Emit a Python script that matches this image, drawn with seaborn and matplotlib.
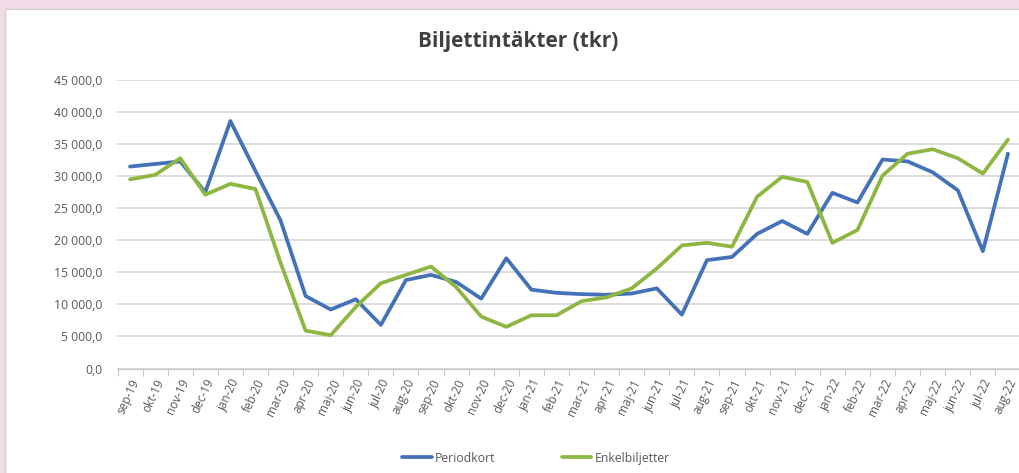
import matplotlib
matplotlib.use("Agg")
import matplotlib.pyplot as plt
import matplotlib.patches as mpatches
from matplotlib.ticker import FuncFormatter, FixedLocator
import seaborn as sns
import pandas as pd

months = ["sep-19", "okt-19", "nov-19", "dec-19", "jan-20", "feb-20", "mar-20", "apr-20",
          "maj-20", "jun-20", "jul-20", "aug-20", "sep-20", "okt-20", "nov-20", "dec-20",
          "jan-21", "feb-21", "mar-21", "apr-21", "maj-21", "jun-21", "jul-21", "aug-21",
          "sep-21", "okt-21", "nov-21", "dec-21", "jan-22", "feb-22", "mar-22", "apr-22",
          "maj-22", "jun-22", "jul-22", "aug-22"]

periodkort = [31500, 31900, 32300, 27500, 38600, 30800, 23100, 11300,
              9200, 10800, 6800, 13800, 14600, 13500, 10900, 17200,
              12300, 11800, 11600, 11500, 11700, 12500, 8400, 16900,
              17400, 21000, 23000, 21000, 27400, 25900, 32600, 32300,
              30600, 27800, 18300, 33500]

enkelbiljetter = [29500, 30200, 32800, 27100, 28800, 28000, 16500, 5900,
                  5200, 9600, 13300, 14600, 15900, 12700, 8100, 6500,
                  8300, 8300, 10500, 11100, 12500, 15600, 19200, 19600,
                  19000, 26800, 29900, 29100, 19600, 21600, 30100, 33500,
                  34200, 32800, 30400, 35700]

series_names = ["Periodkort", "Enkelbiljetter"]
colors = ["#4472b8", "#8db643"]
title = "Biljettintäkter (tkr)"

df = pd.DataFrame({
    "pos": list(range(len(months))) * 2,
    "month": months * 2,
    "value": periodkort + enkelbiljetter,
    "series": [series_names[0]] * len(months) + [series_names[1]] * len(months),
})

sns.set_theme(style="white")
plt.rcParams["font.family"] = ["Open Sans", "DejaVu Sans"]

W, H = 1020, 473
fig = plt.figure(figsize=(W / 100, H / 100), dpi=100)
fig.patch.set_facecolor("#f0dbe6")

# white chart area
fig.add_artist(mpatches.Rectangle((5 / W, -0.01), 1.0, 1 - 9 / H + 0.01, transform=fig.transFigure,
                                  facecolor="white", edgecolor="#d0d0d0", linewidth=1.0, zorder=0))

ax = fig.add_axes([117.5 / W, 1 - 368.5 / H, 903 / W, (368.5 - 80) / H])
ax.set_facecolor("none")

sns.lineplot(data=df, x="pos", y="value", hue="series", palette=colors,
             linewidth=2.7, ax=ax, legend=False, sort=False)

ax.set_xlim(-0.5, len(months) - 0.5)
ax.set_ylim(0, 45000)
ax.set_yticks(range(0, 45001, 5000))

def yfmt(v, _):
    s = f"{v:,.1f}"
    return s.replace(",", " ").replace(".", ",")

ax.yaxis.set_major_formatter(FuncFormatter(yfmt))
ax.grid(axis="y", color="#d9d9d9", linewidth=1.3)
ax.grid(axis="x", visible=False)
ax.set_axisbelow(True)

ax.set_xticks(range(len(months)))
ax.set_xticklabels(months, rotation=65, ha="right", rotation_mode="anchor",
                   fontsize=8.5, color="#595959")
ax.xaxis.set_minor_locator(FixedLocator([i - 0.5 for i in range(len(months) + 1)]))
ax.tick_params(axis="x", which="major", length=0, pad=6)
ax.tick_params(axis="x", which="minor", length=5, width=0.8, color="#c8c8c8", bottom=True)
ax.tick_params(axis="y", length=0, labelsize=8.8, labelcolor="#595959", pad=11)

for s in ["top", "right", "left"]:
    ax.spines[s].set_visible(False)
ax.spines["bottom"].set_color("#c8c8c8")
ax.spines["bottom"].set_linewidth(1.0)

ax.set_xlabel("")
ax.set_ylabel("")

fig.text(518 / W, 1 - 41 / H, title, ha="center", va="center", fontsize=15,
         fontweight="bold", color="#404040")

handles = [plt.Line2D([], [], color=c, linewidth=2.7) for c in colors]
fig.legend(handles, series_names, loc="center", bbox_to_anchor=(536 / W, 1 - 458 / H),
           ncol=2, frameon=False, fontsize=8.8, labelcolor="#595959",
           handlelength=2.4, handletextpad=0.3, columnspacing=5.4)

fig.savefig("out.png", dpi=100, facecolor=fig.get_facecolor())
